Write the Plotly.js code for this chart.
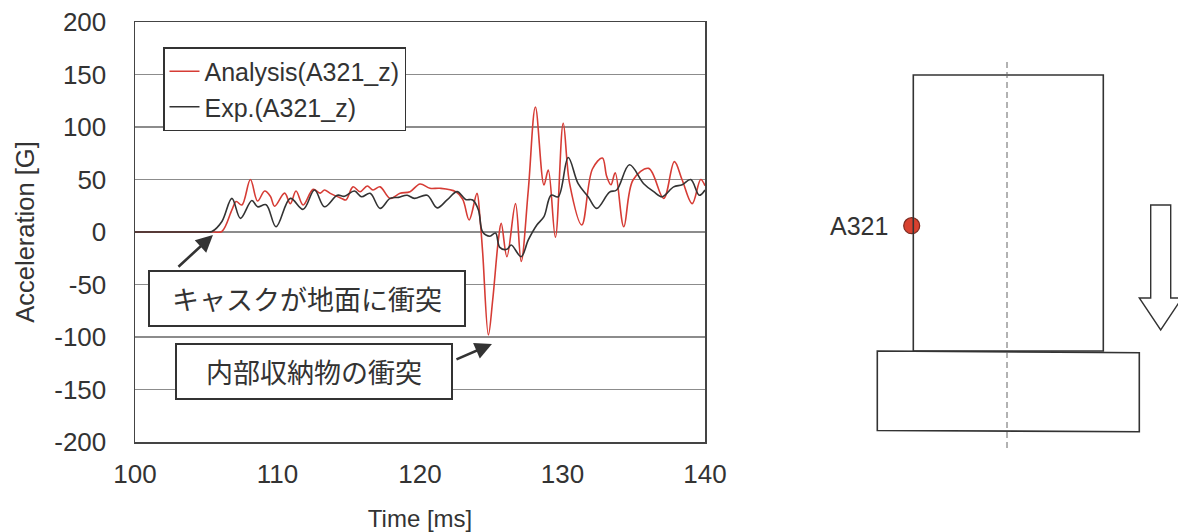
<!DOCTYPE html>
<html>
<head>
<meta charset="utf-8">
<script src="https://cdn.plot.ly/plotly-3.0.1.min.js"></script>
<style>html,body{margin:0;padding:0;background:#fff;}#chart{width:1178px;height:532px;}</style>
</head>
<body>
<div id="chart"></div>
<script>
// ---- data ----
const expTime = [100, 102, 104, 105, 105.4, 106.1, 106.8, 107.4, 108.2, 108.6, 109.2, 109.9, 110.9, 111.8, 112.6, 113.3, 114.2, 114.7, 115.4, 115.9, 116.5, 117.2, 117.9, 118.5, 119.1, 119.6, 120.5, 121.2, 121.9, 122.6, 123.2, 123.7, 124.1, 124.4, 124.9, 125.3, 125.6, 126.1, 126.4, 127.1, 127.6, 128.2, 128.7, 129.2, 129.7, 130.4, 131.1, 131.8, 132.4, 133.3, 133.8, 134.7, 135.7, 136.4, 137.0, 137.8, 138.4, 139.0, 139.6, 140];
const expAcc  = [0, 0, 0, 0, 0.5, 10, 32, 13, 30, 24, 26, 5, 32, 21.6, 40, 24, 35, 34, 39, 33.6, 36.8, 22.5, 32, 33, 35, 32, 35, 23, 30.5, 38.5, 31, 30.5, 21, 0, -4, -1, -14.6, -16.5, -12.4, -23.5, -7.6, 6.7, 14.6, 35, 33.6, 71, 46, 33.6, 22.5, 38, 40, 64, 46, 38.4, 33.6, 43, 45, 50, 35, 40];

const anaTime = [100, 102, 104, 105.5, 106.1, 106.8, 107.1, 107.5, 108.1, 108.6, 109.1, 109.5, 109.8, 110.5, 110.9, 111.3, 111.8, 112.5, 113.0, 113.3, 113.7, 114.5, 114.8, 115.3, 115.8, 116.3, 116.7, 117.2, 117.9, 118.6, 119.3, 120.0, 120.7, 121.4, 122.5, 123.0, 123.45, 124.0, 124.2, 124.4, 124.8, 125.1, 125.5, 125.7, 126.1, 126.7, 127.1, 127.6, 128.1, 128.7, 129.0, 129.5, 130.05, 130.5, 131.35, 132.1, 132.8, 133.1, 133.4, 133.7, 134.3, 134.95, 136.05, 137.1, 137.85, 138.4, 139.1, 139.7, 140];
const anaAcc  = [0, 0, 0, 0, 0.5, 21, 29, 25.7, 50, 29.5, 39, 34, 24.5, 37, 27, 39, 25.7, 40.6, 37, 40, 36.8, 32, 30.5, 43, 38.4, 43.8, 40, 43, 32, 36.8, 38.4, 45.7, 41.6, 41.6, 38.4, 31, 11.5, 36.8, 14.6, -20, -98, -65, -7.6, 8.3, -23.5, 27, -28, 40, 119, 44.8, 59, -5, 103.5, 46, 6.7, 60, 70.5, 53, 45, 56.5, 5, 49.5, 60.6, 32, 67, 49.5, 27, 50, 44];

const seriesNames = ['Analysis(A321_z)', 'Exp.(A321_z)'];
const xTicks = [100, 110, 120, 130, 140];
const yTicks = [-200, -150, -100, -50, 0, 50, 100, 150, 200];
const noteGround = 'キャスクが地面に衝突';
const noteInner = '内部収納物の衝突';
const sensorLabel = 'A321';
const sensorPos = {x: [911.7], y: [225.7]};

// ---- chart ----
const txt = '#333333';
const FONT = 'Liberation Sans, Arial, sans-serif';
const JP = 'Noto Sans CJK JP, sans-serif';

const traces = [
  {x: anaTime, y: anaAcc, name: seriesNames[0], type: 'scatter', mode: 'lines',
   line: {color: '#d63c35', width: 1.6, shape: 'spline', smoothing: 1.0}, xaxis: 'x', yaxis: 'y'},
  {x: expTime, y: expAcc, name: seriesNames[1], type: 'scatter', mode: 'lines',
   line: {color: '#333333', width: 1.6, shape: 'spline', smoothing: 1.0}, xaxis: 'x', yaxis: 'y'},
  {x: sensorPos.x, y: sensorPos.y, type: 'scatter', mode: 'markers', showlegend: false,
   marker: {size: 16, color: '#d8412f', line: {color: '#7a2a20', width: 1.2}}, xaxis: 'x2', yaxis: 'y2', hoverinfo: 'skip'}
];

const diag = {color: '#333333', width: 1.6};
const layout = {
  width: 1178, height: 532,
  margin: {l: 0, r: 0, t: 0, b: 0},
  paper_bgcolor: '#ffffff', plot_bgcolor: 'rgba(0,0,0,0)',
  font: {family: FONT, color: txt, size: 22},
  showlegend: true,
  legend: {x: 163/1178, y: 1 - 47/532, xanchor: 'left', yanchor: 'top',
           bgcolor: '#ffffff', bordercolor: '#333333', borderwidth: 1.5,
           font: {family: FONT, size: 25, color: txt}, itemwidth: 30, traceorder: 'normal'},
  xaxis: {domain: [135/1178, 705/1178], range: [100, 140], tickvals: xTicks, ticktext: xTicks.map(String),
          showgrid: false, zeroline: false, showline: true, mirror: true, linecolor: '#444', linewidth: 1.5,
          ticks: '', tickfont: {size: 26, color: txt}, ticklabelstandoff: 8,
          title: {text: 'Time [ms]', font: {size: 24, color: txt}, standoff: 22}, anchor: 'y', fixedrange: true},
  yaxis: {domain: [1 - 442/532, 1 - 22/532], range: [-200, 200], tickvals: yTicks, ticktext: yTicks.map(String),
          showgrid: true, gridcolor: '#8c8c8c', gridwidth: 1.4, zeroline: false,
          showline: true, mirror: true, linecolor: '#444', linewidth: 1.5,
          ticks: '', tickfont: {size: 26, color: txt}, ticklabelstandoff: 22,
          title: {text: 'Acceleration [G]', font: {size: 25.5, color: txt}, standoff: 12}, anchor: 'x', fixedrange: true},
  xaxis2: {domain: [760/1178, 1], range: [760, 1178], visible: false, anchor: 'y2', fixedrange: true},
  yaxis2: {domain: [0, 1], range: [532, 0], visible: false, anchor: 'x2', fixedrange: true},
  shapes: [
    {type: 'rect', xref: 'x2', yref: 'y2', x0: 913.3, x1: 1103.3, y0: 75, y1: 351, line: diag},
    {type: 'path', xref: 'x2', yref: 'y2', path: 'M877.3,351 L1139.3,352.7 L1139.3,431.7 L877.3,430.5 Z', line: diag},
    {type: 'line', xref: 'x2', yref: 'y2', x0: 1007, x1: 1007, y0: 62, y1: 448, line: {color: '#666', width: 1, dash: '6px,4px'}},
    {type: 'path', xref: 'x2', yref: 'y2', path: 'M1150.7,205 L1170.7,205 L1170.7,298 L1182,298 L1160.7,330 L1139.3,298 L1150.7,298 Z', line: {color: '#333', width: 1.4}, fillcolor: 'rgba(0,0,0,0)'}
  ],
  annotations: [
    {xref: 'x2', yref: 'y2', x: 890, y: 226, text: sensorLabel, showarrow: false, xanchor: 'right', yanchor: 'middle',
     font: {family: FONT, size: 25, color: txt}},
    // arrows
    {xref: 'x', yref: 'y', x: 105.47, y: -2.9, ax: -36, ay: 33, text: '', showarrow: true,
     arrowhead: 2, arrowsize: 1.3, arrowwidth: 2.6, arrowcolor: '#333'},
    {xref: 'x', yref: 'y', x: 125.05, y: -106.7, ax: -37, ay: 16, text: '', showarrow: true,
     arrowhead: 2, arrowsize: 1.3, arrowwidth: 2.6, arrowcolor: '#333'},
    // text boxes
    {xref: 'paper', yref: 'paper', x: 306.5/1178, y: 1 - 298/532, xanchor: 'center', yanchor: 'middle',
     text: noteGround, showarrow: false, width: 312, height: 51, bgcolor: '#ffffff', bordercolor: '#333', borderwidth: 2,
     font: {family: JP, size: 27, color: txt}},
    {xref: 'paper', yref: 'paper', x: 313.5/1178, y: 1 - 371/532, xanchor: 'center', yanchor: 'middle',
     text: noteInner, showarrow: false, width: 272, height: 51, bgcolor: '#ffffff', bordercolor: '#333', borderwidth: 2,
     font: {family: JP, size: 27, color: txt}}
  ]
};

Plotly.newPlot('chart', traces, layout, {displayModeBar: false, staticPlot: true});
</script>
</body>
</html>
